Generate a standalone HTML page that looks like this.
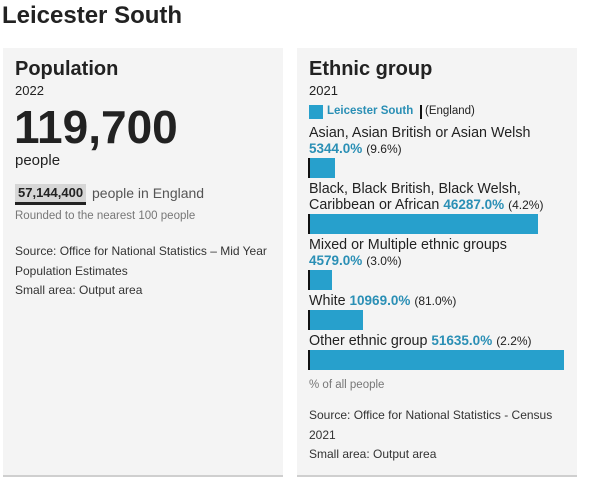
<!DOCTYPE html>
<html><head><meta charset="utf-8"><style>
body{margin:0;width:600px;height:492px;background:#fff;font-family:"Liberation Sans",sans-serif;color:#222;position:relative;overflow:hidden}
.a{position:absolute;white-space:nowrap}
.panel{position:absolute;top:48px;height:427px;width:280px;background:#f4f4f4;border-bottom:2px solid #cfcfcf}
.t13{font-size:13px}
.small{font-size:12px;color:#333}
.blue{color:#2a8fb5;font-weight:bold}
</style></head><body>
<div class="a" style="left:2px;top:2px;font-size:24px;font-weight:bold">Leicester South</div>

<div class="panel" style="left:3px">
  <div class="a" style="left:12px;top:10px;font-size:20px;font-weight:bold">Population</div>
  <div class="a t13" style="left:12px;top:35px">2022</div>
  <div class="a" style="left:11px;top:52px;font-size:46px;font-weight:bold">119,700</div>
  <div class="a" style="left:12px;top:104px;font-size:15px">people</div>
  <div class="a" style="left:12px;top:136px;height:18px;padding:0 3px;background:#d6d6d6;border-bottom:3px solid #222;font-size:13px;font-weight:bold;line-height:18px">57,144,400</div>
  <div class="a" style="left:89px;top:137px;font-size:14px;color:#555">people in England</div>
  <div class="a" style="left:12px;top:162px;font-size:11.5px;color:#777">Rounded to the nearest 100 people</div>
  <div class="a small" style="left:12px;top:194px;line-height:19.5px">Source: Office for National Statistics – Mid Year<br>Population Estimates<br>Small area: Output area</div>
</div>

<div class="panel" style="left:297px">
  <div class="a" style="left:12px;top:10px;font-size:20px;font-weight:bold">Ethnic group</div>
  <div class="a t13" style="left:12px;top:35px">2021</div>
  <div class="a" style="left:12px;top:57px;width:14px;height:14px;background:#27a0cc"></div>
  <div class="a blue" style="left:30px;top:57px;font-size:11.5px">Leicester South</div>
  <div class="a" style="left:123px;top:57px;width:2px;height:14px;background:#111"></div>
  <div class="a" style="left:128px;top:57px;font-size:11.5px">(England)</div>
  <div id="chart"></div>
  <div class="a" style="left:12px;top:331px;font-size:11.5px;color:#777">% of all people</div>
  <div class="a small" style="left:12px;top:358px;line-height:19.5px">Source: Office for National Statistics - Census<br>2021<br>Small area: Output area</div>
</div>

<script>
const categories=["Asian, Asian British or Asian Welsh","Black, Black British, Black Welsh,|Caribbean or African","Mixed or Multiple ethnic groups","White","Other ethnic group"];
const areaValues=[5344.0,46287.0,4579.0,10969.0,51635.0];
const englandValues=[9.6,4.2,3.0,81.0,2.2];
const breakBefore=[true,false,true,false,false];
const maxW=255;
const maxV=Math.max(...areaValues);
function x(v){return v/maxV*maxW;}
const chart=document.getElementById('chart');
let y=77;
categories.forEach((c,i)=>{
  const lines=c.split('|');
  const t=document.createElement('div');
  t.className='a';
  
  
  t.style.cssText='left:12px;top:'+y+'px;font-size:14.3px;line-height:16px';
  let vals='<span class="blue" style="font-size:13.5px">'+areaValues[i].toFixed(1)+'%</span> <span style="font-size:12px">('+englandValues[i].toFixed(1)+'%)</span>';
  let html=lines.join('<br>');
  if(breakBefore[i]) html+='<br>'+vals; else html+=' '+vals;
  t.innerHTML=html;
  chart.appendChild(t);
  const nLines=lines.length+(breakBefore[i]?1:0);
  y+=nLines*16+1;
  const b=document.createElement('div');
  b.className='a';
  
  
  b.style.cssText='left:12px;top:'+y+'px;height:20px;width:'+x(areaValues[i])+'px;background:#27a0cc';
  chart.appendChild(b);
  const m=document.createElement('div');
  m.className='a';
  
  
  m.style.cssText='left:'+(11+x(englandValues[i]))+'px;top:'+y+'px;height:20px;width:2px;background:#111';
  chart.appendChild(m);
  y+=20+3;
});
</script>
</body></html>
